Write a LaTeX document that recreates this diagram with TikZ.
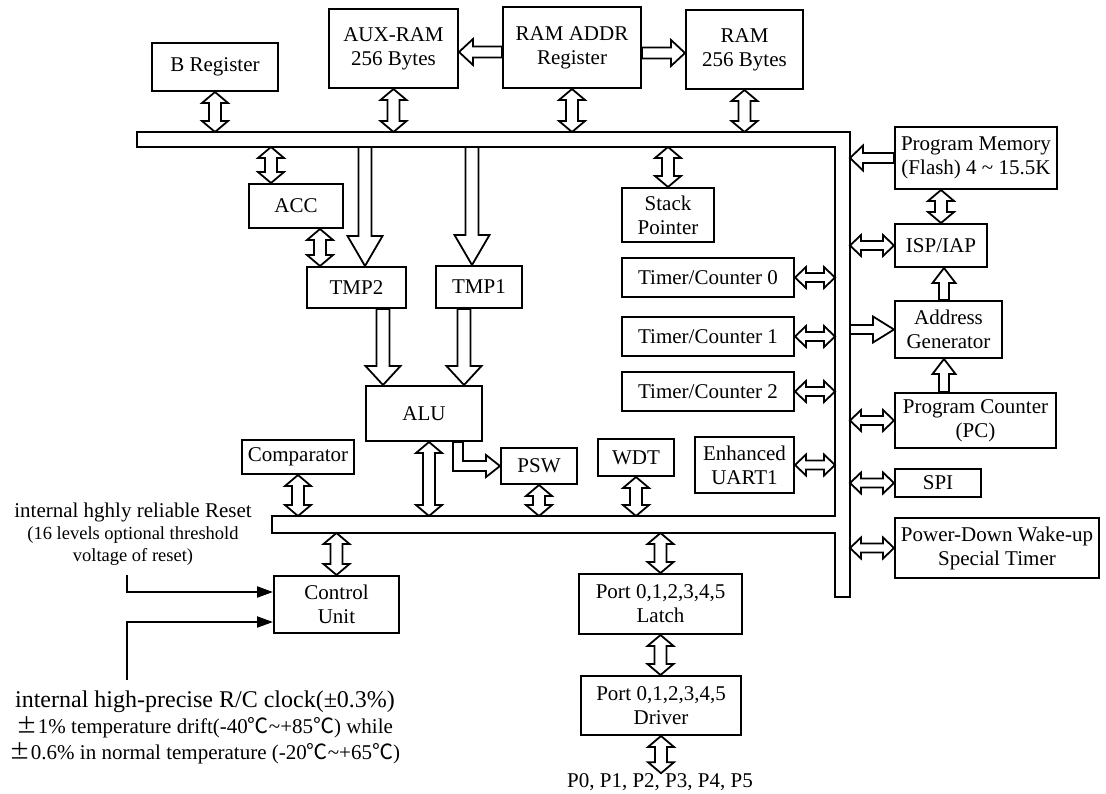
\documentclass[tikz,border=0pt]{standalone}
\usepackage{fontspec}
\setmainfont{Liberation Serif}
\newfontfamily\cjk{Noto Sans CJK SC}
\usetikzlibrary{calc,arrows.meta}

\tikzset{
  blk/.style={draw, line width=2pt, inner sep=0pt, align=center, font=\fontsize{21}{24}\selectfont},
  sz/.style 2 args={minimum width=#1pt, minimum height=#2pt},
  busline/.style={draw, line width=2pt, line join=miter},
  fatline/.style={draw, fill=white, line width=1.8pt, line join=miter},
  fatsize/.code n args={3}{\def\fatsw{#1}\def\fathw{#2}\def\fathl{#3}},
  fat/.style={fatline, fatsize={6.5pt}{17.5pt}{19pt},
    to path={let \p1=(\tikztostart), \p2=(\tikztotarget) in
      ($(\p1)!\fatsw!-90:(\p2)$) -- ($(\p2)!\fathl!(\p1)!\fatsw!90:(\p1)$)
      -- ($(\p2)!\fathl!(\p1)!\fathw!90:(\p1)$) -- (\p2)
      -- ($(\p2)!\fathl!(\p1)!\fathw!-90:(\p1)$) -- ($(\p2)!\fathl!(\p1)!\fatsw!-90:(\p1)$)
      -- ($(\p1)!\fatsw!90:(\p2)$) -- cycle}},
  dbl/.style={fatline, fatsize={6pt}{13pt}{11pt},
    to path={let \p1=(\tikztostart), \p2=(\tikztotarget) in
      (\p1) -- ($(\p1)!\fathl!(\p2)!\fathw!90:(\p2)$) -- ($(\p1)!\fathl!(\p2)!\fatsw!90:(\p2)$)
      -- ($(\p2)!\fathl!(\p1)!\fatsw!-90:(\p1)$) -- ($(\p2)!\fathl!(\p1)!\fathw!-90:(\p1)$)
      -- (\p2)
      -- ($(\p2)!\fathl!(\p1)!\fathw!90:(\p1)$) -- ($(\p2)!\fathl!(\p1)!\fatsw!90:(\p1)$)
      -- ($(\p1)!\fathl!(\p2)!\fatsw!-90:(\p2)$) -- ($(\p1)!\fathl!(\p2)!\fathw!-90:(\p2)$)
      -- cycle}},
  dblh/.style={dbl, fatsize={4.5pt}{10.5pt}{11pt}},
  sig/.style={line width=2pt, -{Triangle[length=16pt, width=11pt]}},
  lbl/.style={align=center, inner sep=0pt},
}

\begin{document}
\begin{tikzpicture}[x=1pt, y=-1pt]
	\useasboundingbox (0,0) rectangle (1106,793);
	% bus
	\coordinate (bustop) at (0,132);
	\coordinate (busbot) at (0,147);
	\coordinate (lbtop) at (0,516);
	\coordinate (lbbot) at (0,533);
	\coordinate (vbl) at (835,0);
	\coordinate (vbr) at (850,0);
	\draw[busline] (137,132) -- (850,132) -- (850,597) -- (835,597) -- (835,533) -- (272,533)
		-- (272,516) -- (835,516) -- (835,147) -- (137,147) -- cycle;

	% blocks
	\node[blk, sz={126}{48}] (breg) at (215,67) {B Register};
	\node[blk, sz={129}{79}] (auxram) at (393.5,48.5) {AUX-RAM\\256 Bytes};
	\node[blk, sz={138}{81}] (ramaddr) at (572,47.5) {RAM ADDR\\Register};
	\node[blk, sz={117}{79}] (ram) at (744.5,49.5) {RAM\\256 Bytes};
	\node[blk, sz={94}{44}] (acc) at (296,206) {ACC};
	\node[blk, sz={99}{41}] (tmp2) at (356.5,287.5) {TMP2};
	\node[blk, sz={86}{42}] (tmp1) at (479,287) {TMP1};
	\node[blk, sz={116}{55}] (alu) at (424,413.5) {ALU};
	\node[blk, sz={112}{34}] (comp) at (298,457) {Comparator};
	\node[blk, sz={76}{36}] (psw) at (539,466) {PSW};
	\node[blk, sz={76}{37}] (wdt) at (636,457.5) {WDT};
	\node[blk, sz={99}{56}] (uart) at (744.5,465) {Enhanced\\UART1};
	\node[blk, sz={92}{54}] (sp) at (668,215) {Stack\\Pointer};
	\node[blk, sz={172}{39}] (tc0) at (708,277.5) {Timer/Counter 0};
	\node[blk, sz={172}{39}] (tc1) at (708,336.5) {Timer/Counter 1};
	\node[blk, sz={172}{39}] (tc2) at (708,391.5) {Timer/Counter 2};
	\node[blk, sz={125}{57}] (cu) at (336.5,604.5) {Control\\Unit};
	\node[blk, sz={163}{60}] (latch) at (660.5,604) {Port 0,1,2,3,4,5\\Latch};
	\node[blk, sz={160}{59}] (driver) at (661,705.5) {Port 0,1,2,3,4,5\\Driver};
	\node[blk, sz={162}{62}] (pm) at (976,158) {Program Memory\\(Flash) 4 \textasciitilde{} 15.5K};
	\node[blk, sz={92}{43}] (isp) at (941,245.5) {ISP/IAP};
	\node[blk, sz={107}{57}] (ag) at (948.5,329.5) {Address\\Generator};
	\node[blk, sz={161}{55}] (pc) at (975.5,420.5) {Program Counter\\(PC)};
	\node[blk, sz={86}{28}] (spi) at (938,483) {SPI};
	\node[blk, sz={204}{60}] (pd) at (997,548) {Power-Down Wake-up\\Special Timer};
	\node[lbl, font=\fontsize{21}{24}\selectfont] (plbl) at (660,782) {P0, P1, P2, P3, P4, P5};

	\node[lbl, font=\fontsize{18.5}{22}\selectfont] (rstlbl) at (133,534)
		{{\fontsize{21}{24}\selectfont internal hghly reliable Reset}\\(16 levels optional threshold\\voltage of reset)};
	\node[lbl, font=\fontsize{21}{26}\selectfont] (clklbl) at (205,727)
		{{\fontsize{24}{28}\selectfont internal high-precise R/C clock(±0.3\%)}\\
		{\cjk ±}1\% temperature drift(-40{\cjk ℃}\textasciitilde+85{\cjk ℃}) while\\
		{\cjk ±}0.6\% in normal temperature (-20{\cjk ℃}\textasciitilde+65{\cjk ℃})};

	% taps
	\coordinate (acctap) at ($(acc.north)+(-25,0)$);
	\coordinate (t2tap) at ($(tmp2.north)+(-36.5,0)$);
	\coordinate (t2in) at ($(tmp2.north)+(8.5,0)$);
	\coordinate (t1in) at ($(tmp1.north)+(-7,0)$);
	\coordinate (t2out) at ($(tmp2.south)+(26.5,0)$);
	\coordinate (t1out) at ($(tmp1.south)+(-15,0)$);
	\coordinate (alutap) at ($(alu.south)+(5,0)$);
	\coordinate (pswtap) at ($(alu.south)+(34,0)$);
	\coordinate (raout) at ($(ramaddr.west)+(0,4.5)$);
	\coordinate (raout2) at ($(ramaddr.east)+(0,5.5)$);
	\coordinate (agtap) at ($(ag.north)+(-4.5,0)$);
	\coordinate (rst) at (127,575);
	\coordinate (clk) at (127,680);

	% double arrows
	\draw[dbl] (breg.south) to (breg.south |- bustop);
	\draw[dbl] (auxram.south) to (auxram.south |- bustop);
	\draw[dbl] (ramaddr.south) to (ramaddr.south |- bustop);
	\draw[dbl] (ram.south) to (ram.south |- bustop);
	\draw[dbl] (acctap |- busbot) to (acctap);
	\draw[dbl] (t2tap |- acc.south) to (t2tap);
	\draw[dbl] (sp.north |- busbot) to (sp.north);
	\draw[dbl] (comp.south) to (comp.south |- lbtop);
	\draw[dbl] (alutap) to (alutap |- lbtop);
	\draw[dbl] (psw.south) to (psw.south |- lbtop);
	\draw[dbl] (wdt.south) to (wdt.south |- lbtop);
	\draw[dbl] (cu.north |- lbbot) to (cu.north);
	\draw[dbl] (latch.north |- lbbot) to (latch.north);
	\draw[dbl] (latch.south) to (latch.south |- driver.north);
	\draw[dbl] (driver.south) to (driver.south |- plbl.north);
	\draw[dbl] (isp.north) to (isp.north |- pm.south);
	\draw[dblh] (tc0.east) to (tc0.east -| vbl);
	\draw[dblh] (tc1.east) to (tc1.east -| vbl);
	\draw[dblh] (tc2.east) to (tc2.east -| vbl);
	\draw[dblh] (uart.east) to (uart.east -| vbl);
	\draw[dblh] (isp.west -| vbr) to (isp.west);
	\draw[dblh] (pc.west -| vbr) to (pc.west);
	\draw[dblh] (spi.west -| vbr) to (spi.west);
	\draw[dblh] (pd.west -| vbr) to (pd.west);

	% wide arrows
	\draw[fat, fatsize={5.5pt}{13pt}{14pt}] (raout) to (raout -| auxram.east);
	\draw[fat, fatsize={5.5pt}{13pt}{14pt}] (raout2) to (raout2 -| ram.west);
	\draw[fat, fatsize={6.5pt}{17.5pt}{30pt}] (t2in |- busbot) to (t2in);
	\draw[fat, fatsize={6.5pt}{17.5pt}{30pt}] (t1in |- busbot) to (t1in);
	\draw[fat] (t2out) to (t2out |- alu.north);
	\draw[fat] (t1out) to (t1out |- alu.north);
	\draw[fat, fatsize={5pt}{12.5pt}{13pt}] (pm.west) to (pm.west -| vbr);
	\draw[fat, fatsize={4.5pt}{13pt}{21pt}] (ag.west -| vbr) to (ag.west);
	\draw[fat, fatsize={5pt}{11.5pt}{15pt}] (agtap) to (agtap |- isp.south);
	\draw[fat, fatsize={5pt}{11.5pt}{15pt}] (agtap |- pc.north) to (agtap |- ag.south);
	\draw[fatline] let \p1=(pswtap), \p2=(psw.west) in
		(\x1-5pt,\y1) -- (\x1-5pt,\y2-5pt) -- (\x2-14pt,\y2-5pt) -- (\x2-14pt,\y2-11pt) -- (\p2)
		-- (\x2-14pt,\y2+11pt) -- (\x2-14pt,\y2+5pt) -- (\x1+5pt,\y2+5pt) -- (\x1+5pt,\y1) -- cycle;

	% reset and clock
	\draw[sig] (rst) |- ($(cu.west)+(0,-12.5)$);
	\draw[sig] (clk) |- ($(cu.west)+(0,17.5)$);
\end{tikzpicture}
\end{document}
